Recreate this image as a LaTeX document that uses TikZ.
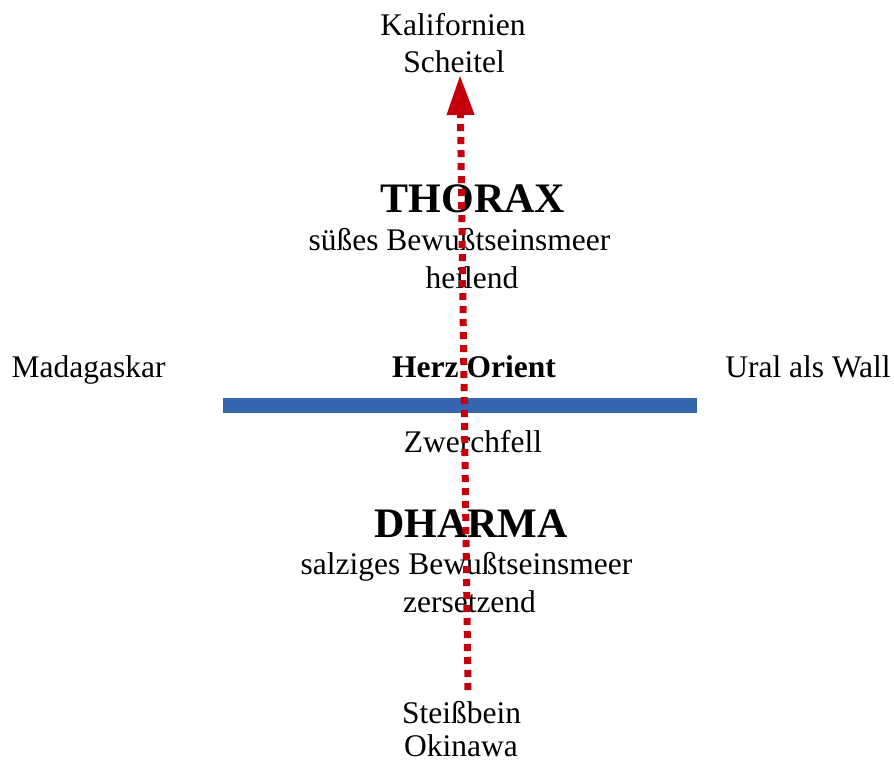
\documentclass[tikz,border=0pt]{standalone}
\usepackage{fontspec}
\setmainfont{Liberation Serif}
\usetikzlibrary{arrows.meta}
\definecolor{barblue}{RGB}{52,101,174}
\definecolor{axisred}{RGB}{196,0,10}
\tikzset{
  txt/.style={anchor=base,inner sep=0pt,font=\fontsize{31.5}{37}\selectfont},
  bigtxt/.style={anchor=base,inner sep=0pt,font=\fontsize{42}{48}\selectfont\bfseries},
  boldtxt/.style={anchor=base,inner sep=0pt,font=\fontsize{31.5}{37}\selectfont\bfseries},
  axisline/.style={draw=axisred,line width=7pt,dash pattern=on 7pt off 6pt,line cap=butt,
    -{Triangle[length=40pt,width=26pt,fill=axisred]}},
  diaphragm/.style={fill=barblue,draw=none}
}
\begin{document}
\begin{tikzpicture}[x=1pt,y=-1pt]
\useasboundingbox (0,0) rectangle (894,762);
\fill[diaphragm] (223,398) rectangle (697,413);
\node[txt] (kal) at (453,36) {Kalifornien};
\node[txt] (sch) at (454,73) {Scheitel};
\node[bigtxt] (thorax) at (473,212) {THORAX};
\node[txt] (suess) at (459.5,251) {süßes Bewußtseinsmeer};
\node[txt] (heil) at (472,288) {heilend};
\node[txt] (mad) at (88.7,377) {Madagaskar};
\node[boldtxt] (herz) at (474,377) {Herz Orient};
\node[txt] (ural) at (808,377) {Ural als Wall};
\node[txt] (zwerch) at (473,452) {Zwerchfell};
\node[bigtxt] (dharma) at (471,537) {DHARMA};
\node[txt] (salz) at (466.5,574) {salziges Bewußtseinsmeer};
\node[txt] (zers) at (469.5,612) {zersetzend};
\node[txt] (steiss) at (461.5,723) {Steißbein};
\node[txt] (oki) at (461,756) {Okinawa};
\coordinate (base) at (468,690);
\coordinate (tip) at (460,75);
\draw[axisline] (base) -- (tip);
\end{tikzpicture}
\end{document}
